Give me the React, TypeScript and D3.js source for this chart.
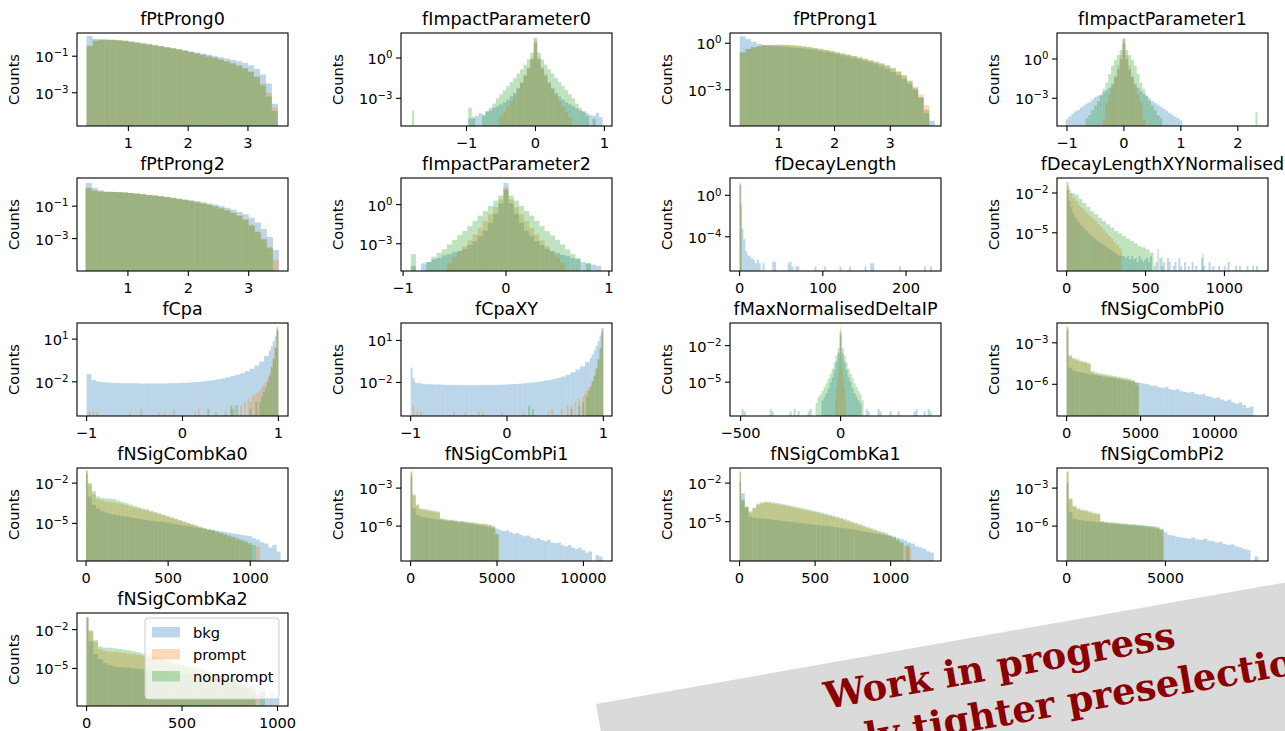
import React from 'react';
import * as d3 from 'd3';

type Seg = { x0: number; dx: number; v: (number | null)[] };
const _ = null;
const seg = (x0: number, dx: number, v: (number | null)[]): Seg => ({ x0, dx, v });
const pts = (dx: number, list: [number, number][]): Seg[] => list.map(([x, v]) => ({ x0: x, dx, v: [v] }));

const SERIES_NAMES = ['bkg', 'prompt', 'nonprompt'];
const SERIES_COLORS = ['#1f77b4', '#ff7f0e', '#2ca02c'];

// All bar heights are log10(counts)
const PT0_BKG = [seg(0.3, 0.1, [0.1,-0.05,-0.08,-0.1,-0.12,-0.15,-0.18,-0.22,-0.27,-0.32,-0.37,-0.42,-0.47,-0.52,-0.57,-0.62,-0.68,-0.74,-0.8,-0.86,-0.92,-0.98,-1.05,-1.12,-1.2,-1.28,-1.37,-1.5,-1.7,-2.0,-2.5,-3.6])];
const PT0_PROMPT = [seg(0.3, 0.1, [-0.45,-0.15,-0.1,-0.1,-0.1,-0.12,-0.15,-0.2,-0.25,-0.3,-0.35,-0.4,-0.45,-0.5,-0.57,-0.63,-0.7,-0.78,-0.85,-0.92,-1.0,-1.08,-1.17,-1.27,-1.38,-1.5,-1.65,-1.83,-2.1,-2.5,-3.0,-3.8])];
const PT0_NONPROMPT = [seg(0.3, 0.1, [-0.42,-0.14,-0.09,-0.09,-0.1,-0.12,-0.15,-0.19,-0.24,-0.29,-0.34,-0.39,-0.45,-0.51,-0.57,-0.64,-0.71,-0.78,-0.86,-0.94,-1.02,-1.1,-1.19,-1.29,-1.4,-1.52,-1.67,-1.86,-2.15,-2.6,-3.2,-4.0])];

const IP0_BKG = [seg(-1.025, 0.05, [_,-4.5,-4.4,-4.3,-4.1,-4.2,-3.95,-3.9,-3.7,-3.6,-3.45,-3.3,-3.1,-2.85,-2.6,-2.25,-1.85,-1.35,-0.8,-0.1,1.5,-0.1,-0.8,-1.35,-1.85,-2.25,-2.6,-2.85,-3.1,-3.3,-3.45,-3.6,-3.75,-3.9,-3.95,-4.1,-4.25,-4.3,-4.1,-4.4,_])];
const IP0_PROMPT = [seg(-0.525, 0.05, [-4.3,-4.0,-3.6,-3.2,-2.8,-2.3,-1.8,-1.25,-0.7,0.0,1.3,0.05,-0.65,-1.2,-1.8,-2.3,-2.75,-3.2,-3.6,-4.0,-4.4])];
const IP0_NONPROMPT = [seg(-0.975, 0.05, [-3.7,-4.5,_,_,-4.3,-4.0,-3.7,-3.4,-3.0,-2.7,-2.4,-2.1,-1.8,-1.5,-1.15,-0.85,-0.5,-0.1,0.4,1.1,0.4,-0.1,-0.5,-0.85,-1.15,-1.5,-1.8,-2.1,-2.4,-2.7,-3.0,-3.4,-3.7,-4.0,-4.3,_,-4.5]), seg(-1.79, 0.03, [-3.9])];

const PT1_BKG = [seg(0.3, 0.1, [0.44,0.27,0.1,-0.05,-0.12,-0.16,-0.19,-0.22,-0.25,-0.28,-0.31,-0.34,-0.38,-0.43,-0.49,-0.56,-0.63,-0.7,-0.78,-0.86,-0.95,-1.04,-1.13,-1.23,-1.35,-1.5,-1.67,-1.85,-2.05,-2.3,-2.6,-3.0,-3.5,-4.3,-5.0])];
const PT1_PROMPT = [seg(0.3, 0.1, [-0.6,-0.38,-0.27,-0.19,-0.13,-0.11,-0.11,-0.11,-0.12,-0.14,-0.17,-0.21,-0.26,-0.31,-0.37,-0.44,-0.51,-0.59,-0.67,-0.75,-0.83,-0.92,-1.01,-1.1,-1.2,-1.31,-1.43,-1.6,-1.8,-2.05,-2.4,-2.8,-3.3,-4.0])];
const PT1_NONPROMPT = [seg(0.3, 0.1, [-0.58,-0.37,-0.26,-0.19,-0.13,-0.11,-0.1,-0.1,-0.11,-0.13,-0.16,-0.2,-0.25,-0.3,-0.36,-0.43,-0.5,-0.58,-0.66,-0.74,-0.82,-0.91,-1.0,-1.1,-1.2,-1.31,-1.44,-1.62,-1.85,-2.1,-2.45,-2.9,-3.5,-4.5])];

const IP1_BKG = [seg(-1.025, 0.05, [-4.6,-4.4,-4.2,-4.0,-3.9,-3.7,-3.55,-3.4,-3.3,-3.1,-2.9,-2.8,-2.7,-2.55,-2.4,-2.2,-1.9,-1.4,-0.8,0.0,1.6,0.0,-0.8,-1.4,-1.9,-2.2,-2.45,-2.65,-2.8,-3.0,-3.2,-3.35,-3.5,-3.65,-3.8,-3.95,-4.1,-4.25,-4.4,-4.5,-4.7])];
const IP1_PROMPT = [seg(-0.375, 0.05, [-4.6,-3.3,-2.7,-2.05,-1.3,-0.5,0.3,1.5,0.3,-0.5,-1.3,-2.05,-2.7,-3.3,-4.6])];
const IP1_NONPROMPT = [seg(-0.675, 0.05, [-4.5,-4.3,-3.9,-3.56,-3.2,-2.8,-2.3,-1.8,-1.15,-0.5,-0.05,0.3,0.7,1.2,0.7,0.3,-0.05,-0.5,-1.15,-1.8,-2.3,-2.8,-3.2,-3.56,-3.9,-4.3,-4.5]), seg(2.31, 0.035, [-4.06])];

const PT2_BKG = [seg(0.3, 0.1, [0.43,0.13,-0.02,-0.1,-0.12,-0.14,-0.16,-0.19,-0.23,-0.27,-0.31,-0.35,-0.39,-0.43,-0.48,-0.53,-0.58,-0.63,-0.69,-0.76,-0.83,-0.9,-1.0,-1.1,-1.21,-1.35,-1.5,-1.71,-2.0,-2.4,-2.9,-3.7])];
const PT2_PROMPT = [seg(0.3, 0.1, [0.13,-0.02,-0.1,-0.12,-0.12,-0.13,-0.15,-0.18,-0.22,-0.26,-0.3,-0.34,-0.39,-0.44,-0.49,-0.55,-0.61,-0.68,-0.75,-0.83,-0.91,-1.0,-1.12,-1.25,-1.4,-1.57,-1.8,-2.15,-2.55,-3.0,-3.5,-4.3])];
const PT2_NONPROMPT = [seg(0.3, 0.1, [0.12,-0.03,-0.1,-0.12,-0.12,-0.13,-0.15,-0.18,-0.22,-0.26,-0.3,-0.34,-0.39,-0.44,-0.5,-0.56,-0.62,-0.69,-0.76,-0.84,-0.92,-1.02,-1.14,-1.27,-1.42,-1.6,-1.85,-2.2,-2.6,-3.05,-3.6])];

const IP2_BKG = [seg(-0.925, 0.05, [-4.7,_,-4.5,-4.4,-4.2,-4.1,-3.9,-3.8,-3.65,-3.55,-3.4,-3.1,-2.8,-2.4,-2.0,-1.4,-0.7,0.1,1.66,0.1,-0.7,-1.4,-2.0,-2.4,-2.8,-3.1,-3.4,-3.55,-3.7,-3.85,-3.95,-4.1,-4.2,-4.4,-4.5,-4.6,-4.7])];
const IP2_PROMPT = [seg(-0.575, 0.05, [-4.5,-4.0,-3.6,-3.2,-2.75,-2.3,-1.8,-1.27,-0.75,-0.2,0.4,1.3,0.4,-0.2,-0.75,-1.27,-1.8,-2.3,-2.75,-3.2,-3.6,-4.0,-4.5])];
const IP2_NONPROMPT = [seg(-0.925, 0.05, [-3.8,_,_,-4.4,-4.0,-3.7,-3.43,-3.05,-2.7,-2.35,-2.03,-1.65,-1.25,-0.85,-0.5,-0.1,0.3,0.7,1.15,0.7,0.3,-0.1,-0.5,-0.85,-1.25,-1.65,-2.03,-2.35,-2.7,-3.05,-3.43,-3.8,-4.1,_,-4.5])];

const DL_BKG = pts(2.31, [[0,1.0],[2.31,-3.2],[4.62,-4.2],[6.93,-5.4],[9.24,-5.8],[11.55,-5.9],[13.86,-6.1],[16.17,-6.2],[18.48,-6.55],[20.79,-6.2],[23.1,-6.55],[27.72,-6.55],[39.27,-6.4],[41.58,-6.4],[57.75,-6.55],[60.06,-6.4],[62.37,-6.85],[66.99,-6.85],[69.3,-6.85],[90.09,-6.85],[101.64,-6.85],[120.12,-6.85],[131.67,-6.85],[150.15,-6.85],[157.08,-6.55],[159.39,-6.55],[191.73,-6.85],[221.76,-6.85],[228.69,-6.85]]);
const DL_PROMPT = pts(1.2, [[0,1.19],[1.2,-1.0]]);
const DL_NONPROMPT = pts(1.2, [[0,1.1],[1.2,-0.8]]);

const DLXY_BKG = [seg(0, 12, [-1.17,-2.6,-3.1,-3.5,-3.8,-4.0,-4.2,-4.4,-4.55,-4.7,-4.85,-5.0,-5.1,-5.25,-5.35,-5.5,-5.6,-5.7,-5.8,-5.9,-6.0,-6.1,-6.2,-6.3,-6.4,-6.5,-6.6,-6.7,-6.75,-6.75]),
  ...pts(12, [[360,-6.75],[372,-6.9],[384,-6.75],[396,-7.0],[408,-6.75],[420,-7.0],[432,-6.9],[444,-7.2],[456,-6.75],[468,-7.0],[480,-7.2],[492,-7.0],[504,-6.9],[516,-7.2],[528,-6.75],[552,-7.5],[564,-7.2],[588,-6.9],[600,-7.5],[612,-7.2],[636,-6.9],[648,-7.2],[672,-7.5],[684,-7.2],[708,-6.9],[720,-7.5],[744,-7.2],[768,-7.5],[792,-7.2],[816,-7.5],[852,-6.9],[864,-7.5],[900,-7.2],[924,-7.5],[960,-7.5],[996,-7.5],[1020,-7.2],[1068,-7.5],[1092,-7.5],[1140,-7.5],[1176,-7.5],[1200,-7.5]])];
const DLXY_PROMPT = [seg(0, 17.5, [-1.4,-2.0,-2.35,-2.6,-2.9,-3.1,-3.3,-3.5,-3.7,-3.9,-4.1,-4.35,-4.55,-4.8,-5.0,-5.25,-5.45,-5.7,-5.9,-6.2])];
const DLXY_NONPROMPT = [seg(0, 25, [-1.75,-2.0,-2.12,-2.45,-2.75,-3.05,-3.37,-3.6,-3.87,-4.1,-4.37,-4.6,-4.87,-5.05,-5.25,-5.45,-5.62,-5.8,-6.0,-6.1,-6.25,-6.5]),
  ...pts(8.7, [[575,-6.25],[600,-6.8],[860,-6.6]])];

const CPA_BKG = [seg(-1, 0.05, [-1.45,-1.88,-1.98,-2.02,-2.05,-2.07,-2.08,-2.1,-2.1,-2.1,-2.1,-2.12,-2.12,-2.12,-2.12,-2.12,-2.12,-2.1,-2.1,-2.08,-2.07,-2.05,-2.03,-2.0,-1.97,-1.93,-1.88,-1.82,-1.76,-1.68,-1.6,-1.5,-1.4,-1.25,-1.08,-0.85,-0.58,-0.2]), seg(0.9, 0.02, [0.2,0.5,0.85,1.2,1.75])];
const CPA_PROMPT = pts(0.02, [[-0.98,-4.1],[-0.94,-4.1],[-0.9,-4.1],[-0.56,-4.1],[-0.44,-3.9],[-0.26,-4.1],[-0.2,-4.1],[-0.1,-3.9],[0.12,-4.1],[0.16,-3.9],[0.34,-4.1],[0.44,-4.1],[0.5,-3.9],[0.54,-3.65],[0.6,-3.65],[0.64,-3.4],[0.68,-3.2],[0.7,-3.4],[0.72,-3.0],[0.74,-2.9],[0.76,-2.8],[0.78,-2.7],[0.8,-2.6],[0.82,-2.4],[0.84,-2.2],[0.86,-2.0],[0.88,-1.7],[0.9,-1.4],[0.92,-0.9],[0.94,-0.3],[0.96,0.4],[0.98,1.9]]);
const CPA_NONPROMPT = pts(0.02, [[0.26,-3.9],[0.5,-3.65],[0.52,-3.9],[0.56,-3.65],[0.7,-3.9],[0.76,-3.4],[0.8,-3.4],[0.82,-3.0],[0.84,-2.7],[0.86,-2.4],[0.88,-2.0],[0.9,-1.6],[0.92,-1.0],[0.94,-0.4],[0.96,0.4],[0.98,1.55]]);

const CPAXY_BKG = [seg(-1.0, 0.02, [-0.94,-1.7,-1.99]), seg(-0.94, 0.05, [-2.05,-2.1,-2.12,-2.14,-2.15,-2.16,-2.17,-2.18,-2.18,-2.19,-2.19,-2.19,-2.19,-2.19,-2.18,-2.18,-2.17,-2.16,-2.15,-2.13,-2.11,-2.09,-2.06,-2.03,-1.99,-1.95,-1.9,-1.84,-1.77,-1.68,-1.58,-1.45,-1.28,-1.08,-0.85,-0.55]), seg(0.86, 0.02, [-0.25,0.0,0.3,0.6,0.95,1.35,1.85])];
const CPAXY_PROMPT = pts(0.02, [[-0.98,-3.65],[-0.94,-4.1],[-0.9,-4.1],[-0.56,-4.1],[-0.44,-4.1],[-0.3,-4.1],[-0.26,-4.1],[-0.06,-4.1],[0.16,-4.1],[0.42,-4.1],[0.46,-3.9],[0.56,-3.9],[0.62,-3.65],[0.66,-3.65],[0.7,-3.4],[0.74,-3.2],[0.78,-3.0],[0.8,-2.8],[0.82,-2.6],[0.84,-2.4],[0.86,-2.2],[0.88,-1.9],[0.9,-1.5],[0.92,-1.0],[0.94,-0.4],[0.96,0.4],[0.98,1.9]]);
const CPAXY_NONPROMPT = pts(0.02, [[0.22,-3.65],[0.26,-3.9],[0.66,-3.9],[0.74,-3.65],[0.78,-3.4],[0.82,-3.0],[0.84,-2.6],[0.86,-2.3],[0.88,-1.9],[0.9,-1.5],[0.92,-1.0],[0.94,-0.3],[0.96,0.5],[0.98,1.6]]);

const MND_BKG = [seg(-95, 10, [-6.5,-6.2,-5.9,-5.5,-5.0,-4.6,-4.0,-3.3,-2.6,-1.1,-2.6,-3.3,-4.0,-4.6,-5.0,-5.5,-5.9,-6.2,-6.5,-6.8]),
  ...pts(10, [[-495,-7.2],[-485,-7.4],[-355,-7.2],[-345,-7.4],[-255,-7.4],[-235,-7.2],[-215,-7.4],[-165,-7.4],[-155,-7.2],[125,-7.2],[135,-7.4],[185,-7.2],[195,-7.4],[245,-7.4],[285,-7.4],[365,-7.4],[375,-7.2],[415,-7.4],[435,-7.2],[445,-7.4]])];
const MND_PROMPT = [seg(-27.5, 5, [-6.4,-5.5,-4.8,-4.2,-3.0,-0.47,-3.0,-4.2,-4.8,-5.5,-6.4])];
const MND_NONPROMPT = [seg(-125, 10, [-6.7,-6.2,-6.0,-5.7,-5.4,-5.1,-4.7,-4.3,-3.9,-3.4,-2.8,-2.2,-0.83,-2.2,-2.8,-3.4,-3.9,-4.3,-4.7,-5.1,-5.4,-5.7,-6.0,-6.5])];

const PI0_BKG = [seg(0, 125, [-2.1]), seg(125, 250, [-4.8,-5.0,-5.1,-5.15,-5.2,-5.25,-5.3,-5.35,-5.4,-5.45,-5.5,-5.5,-5.55,-5.6,-5.65,-5.7,-5.75,-5.8,-5.85,-5.9,-5.95,-6.0,-6.1,-6.1,-6.2,-6.25,-6.2,-6.35,-6.4,-6.35,-6.5,-6.55,-6.6,-6.55,-6.7,-6.75,-6.7,-6.85,-6.9,-7.0,-6.95,-7.1,-7.2,-7.1,-7.3,-7.4,-7.3,-7.5,-7.7,-7.6])];
const PI0_PROMPT = [seg(0, 125, [-1.9]), seg(125, 250, [-4.0,-4.2,-4.3,-4.4,-4.45,-4.55,-5.15,-5.25,-5.3,-5.35,-5.4,-5.45,-5.5,-5.55,-5.6,-5.65,-5.7,-5.8,-6.1])];
const PI0_NONPROMPT = [seg(0, 125, [-1.85]), seg(125, 250, [-3.9,-4.1,-4.2,-4.3,-4.35,-4.45,-5.05,-5.15,-5.2,-5.25,-5.3,-5.35,-5.4,-5.45,-5.5,-5.55,-5.6,-5.7,-5.9])];

const KA0_BKG = [seg(0, 10, [-1.3]), seg(10, 25, [-3.0,-3.6,-3.9,-4.1,-4.2,-4.3,-4.35,-4.4,-4.45,-4.5,-4.55,-4.6,-4.65,-4.7,-4.75,-4.8,-4.85,-4.88,-4.9,-4.95,-5.0,-5.05,-5.1,-5.15,-5.2,-5.25,-5.3,-5.35,-5.4,-5.45,-5.5,-5.55,-5.6,-5.65,-5.7,-5.75,-5.8,-5.85,-5.9,-5.95,-6.1,-6.2,-6.4,-6.5,-6.8,-6.6,-7.1])];
const KA0_PROMPT = [seg(0, 10, [-1.05]), seg(10, 25, [-2.1,-2.8,-3.2,-3.3,-3.35,-3.4,-3.45,-3.5,-3.55,-3.65,-3.75,-3.85,-3.9,-4.0,-4.05,-4.15,-4.25,-4.3,-4.4,-4.5,-4.6,-4.7,-4.8,-4.9,-5.0,-5.1,-5.2,-5.3,-5.4,-5.5,-5.55,-5.65,-5.75,-5.85,-5.95,-6.05,-6.2,-6.3,-6.45,-6.6,_,-6.75])];
const KA0_NONPROMPT = [seg(0, 10, [-1.1]), seg(10, 25, [-2.0,-2.6,-3.0,-3.1,-3.15,-3.15,-3.2,-3.3,-3.4,-3.5,-3.6,-3.7,-3.8,-3.9,-3.95,-4.05,-4.15,-4.25,-4.35,-4.45,-4.55,-4.65,-4.75,-4.85,-4.95,-5.05,-5.15,-5.25,-5.35,-5.45,-5.5,-5.6,-5.7,-5.8,-5.9,-6.0,-6.1,-6.2,-6.3,-6.45,-6.6])];

const PI1_BKG = [seg(0, 100, [-2.07]), seg(100, 200, [-4.6,-5.1,-5.25,-5.3,-5.35,-5.4,-5.45,-5.5,-5.5,-5.55,-5.6,-5.6,-5.65,-5.7,-5.7,-5.75,-5.8,-5.85,-5.9,-5.95,-6.0,-6.05,-6.1,-6.15,-6.2,-6.3,-6.4,-6.35,-6.5,-6.6,-6.55,-6.7,-6.8,-6.75,-6.9,-7.0,-6.95,-7.1,-7.2,-7.1,-7.3,-7.35,-7.3,-7.5,-7.6,-7.5,-7.7,-7.8,-7.7,-7.9,-8.1,-8.0,_,-8.3,-8.4])];
const PI1_PROMPT = [seg(0, 100, [-1.8]), seg(100, 200, [-3.6,-4.4,-4.7,-4.75,-4.8,-4.85,-4.9,-4.95,-5.45,-5.5,-5.55,-5.55,-5.6,-5.65,-5.65,-5.7,-5.75,-5.75,-5.8,-5.85,-5.85,-5.9,-5.95,-6.05,-6.7])];
const PI1_NONPROMPT = [seg(0, 100, [-1.67]), seg(100, 200, [-3.5,-4.3,-4.6,-4.65,-4.7,-4.75,-4.8,-4.85,-5.4,-5.45,-5.5,-5.5,-5.55,-5.6,-5.6,-5.65,-5.7,-5.7,-5.75,-5.8,-5.8,-5.85,-5.9,-6.0,-6.6])];

const KA1_BKG = [seg(0, 10, [-1.9]), seg(10, 25, [-2.8,-3.9,-4.6,-4.7,-4.75,-4.75,-4.78,-4.8,-4.85,-4.88,-4.92,-4.96,-5.0,-5.03,-5.06,-5.1,-5.13,-5.16,-5.2,-5.23,-5.27,-5.3,-5.33,-5.36,-5.4,-5.43,-5.46,-5.5,-5.55,-5.6,-5.65,-5.7,-5.75,-5.8,-5.85,-5.9,-5.95,-6.0,-6.05,-6.1,-6.15,-6.25,-6.35,-6.45,-6.6,-6.7,-6.9,-7.0,-7.1,-7.3,-7.4])];
const KA1_PROMPT = [seg(0, 10, [-1.2]), seg(10, 25, [-3.4,-3.9,-4.3,-4.0,-3.7,-3.6,-3.55,-3.55,-3.6,-3.65,-3.7,-3.75,-3.8,-3.87,-3.93,-4.0,-4.07,-4.14,-4.2,-4.27,-4.34,-4.41,-4.48,-4.56,-4.64,-4.72,-4.8,-4.9,-5.0,-5.1,-5.2,-5.3,-5.4,-5.5,-5.6,-5.7,-5.8,-5.9,-6.0,-6.15,-6.3,-6.5,-6.7,-6.9,-6.97])];
const KA1_NONPROMPT = [seg(0, 10, [-1.09]), seg(10, 25, [-3.3,-3.8,-4.2,-3.9,-3.6,-3.5,-3.44,-3.44,-3.5,-3.55,-3.6,-3.66,-3.72,-3.78,-3.85,-3.9,-3.97,-4.04,-4.1,-4.17,-4.23,-4.3,-4.38,-4.46,-4.54,-4.62,-4.7,-4.8,-4.9,-5.0,-5.1,-5.2,-5.3,-5.4,-5.5,-5.6,-5.7,-5.8,-5.9,-6.05,-6.2,-6.4,-6.6]), ...pts(25, [[1100,-6.8]])];

const PI2_BKG = [seg(0, 100, [-2.6]), seg(100, 200, [-4.9,-5.4,-5.5,-5.55,-5.6,-5.62,-5.65,-5.68,-5.7,-5.75,-5.78,-5.8,-5.82,-5.85,-5.88,-5.9,-5.93,-5.95,-5.98,-6.0,-6.05,-6.1,-6.2,-6.3,-6.5,-6.7,-6.75,-6.85,-6.9,-6.95,-7.0,-6.9,-7.05,-7.1,-7.0,-7.15,-7.2,-7.3,-7.25,-7.4,-7.5,-7.45,-7.6,-7.7,-7.8,-7.9,_,-8.4])];
const PI2_PROMPT = [seg(0, 100, [-1.75]), seg(100, 200, [-3.9,-4.5,-4.7,-4.8,-4.85,-4.95,-5.05,-5.1,-5.7,-5.75,-5.8,-5.8,-5.85,-5.9,-5.9,-5.95,-5.95,-6.0,-6.0,-6.05,-6.1,-6.1,-6.15,-6.3])];
const PI2_NONPROMPT = [seg(0, 100, [-1.67]), seg(100, 200, [-3.8,-4.4,-4.6,-4.7,-4.75,-4.85,-4.95,-5.0,-5.6,-5.65,-5.7,-5.7,-5.75,-5.8,-5.8,-5.85,-5.85,-5.9,-5.9,-5.95,-6.0,-6.0,-6.05,-6.2])];

const KA2_BKG = [seg(0, 10, [-1.1]), seg(10, 25, [-2.9,-3.9,-4.3,-4.6,-4.75,-4.85,-4.9,-4.92,-4.95,-5.0,-5.03,-5.06,-5.1,-5.13,-5.16,-5.2,-5.25,-5.3,-5.35,-5.4,-5.45,-5.5,-5.55,-5.6,-5.65,-5.7,-5.75,-5.85,-5.95,-6.05,-6.15,-6.3,-6.5,-6.6,-6.9,-7.0,-6.8,-7.2,-6.9,-7.3])];
const KA2_PROMPT = [seg(0, 10, [-1.0]), seg(10, 25, [-2.15,-2.95,-3.5,-3.65,-3.7,-3.72,-3.75,-3.8,-3.85,-3.9,-3.97,-4.05,-4.12,-4.2,-4.3,-4.4,-4.5,-4.6,-4.7,-4.8,-4.9,-5.0,-5.1,-5.2,-5.3,-5.4,-5.52,-5.65,-5.78,-5.9,-6.02,-6.15,-6.3,-6.45,-6.55,-6.6])];
const KA2_NONPROMPT = [seg(0, 10, [-1.02]), seg(10, 25, [-2.05,-2.8,-3.3,-3.4,-3.4,-3.45,-3.5,-3.55,-3.6,-3.68,-3.76,-3.85,-3.95,-4.05,-4.15,-4.25,-4.35,-4.45,-4.55,-4.65,-4.75,-4.85,-4.95,-5.05,-5.15,-5.25,-5.37,-5.5,-5.62,-5.75,-5.88,-6.0,-6.12,-6.3,-6.45]), ...pts(25, [[910,-6.5]])];

type Panel = { title: string; row: number; col: number; xDom: [number, number]; yDom: [number, number]; xTicks: number[]; yTicks: number[]; series: Seg[][]; legend?: boolean };

const PANELS: Panel[] = [
  { title: 'fPtProng0', row: 0, col: 0, xDom: [0.14, 3.67], yDom: [-4.82, 0.27], xTicks: [1, 2, 3], yTicks: [-1, -3], series: [PT0_BKG, PT0_PROMPT, PT0_NONPROMPT] },
  { title: 'fImpactParameter0', row: 0, col: 1, xDom: [-1.95, 1.11], yDom: [-5.06, 1.86], xTicks: [-1, 0, 1], yTicks: [0, -3], series: [IP0_BKG, IP0_PROMPT, IP0_NONPROMPT] },
  { title: 'fPtProng1', row: 0, col: 2, xDom: [0.125, 3.91], yDom: [-5.34, 0.66], xTicks: [1, 2, 3], yTicks: [0, -3], series: [PT1_BKG, PT1_PROMPT, PT1_NONPROMPT] },
  { title: 'fImpactParameter1', row: 0, col: 3, xDom: [-1.175, 2.53], yDom: [-5.12, 1.99], xTicks: [-1, 0, 1, 2], yTicks: [0, -3], series: [IP1_BKG, IP1_PROMPT, IP1_NONPROMPT] },
  { title: 'fPtProng2', row: 1, col: 0, xDom: [0.157, 3.65], yDom: [-5.0, 0.74], xTicks: [1, 2, 3], yTicks: [-1, -3], series: [PT2_BKG, PT2_PROMPT, PT2_NONPROMPT] },
  { title: 'fImpactParameter2', row: 1, col: 1, xDom: [-1.02, 1.03], yDom: [-5.09, 2.04], xTicks: [-1, 0, 1], yTicks: [0, -3], series: [IP2_BKG, IP2_PROMPT, IP2_NONPROMPT] },
  { title: 'fDecayLength', row: 1, col: 2, xDom: [-11.5, 242], yDom: [-7.3, 1.67], xTicks: [0, 100, 200], yTicks: [0, -4], series: [DL_BKG, DL_PROMPT, DL_NONPROMPT] },
  { title: 'fDecayLengthXYNormalised', row: 1, col: 3, xDom: [-61, 1276], yDom: [-7.88, -0.87], xTicks: [0, 500, 1000], yTicks: [-2, -5], series: [DLXY_BKG, DLXY_PROMPT, DLXY_NONPROMPT] },
  { title: 'fCpa', row: 2, col: 0, xDom: [-1.1, 1.1], yDom: [-4.4, 2.13], xTicks: [-1, 0, 1], yTicks: [1, -2], series: [CPA_BKG, CPA_PROMPT, CPA_NONPROMPT] },
  { title: 'fCpaXY', row: 2, col: 1, xDom: [-1.1, 1.09], yDom: [-4.4, 2.25], xTicks: [-1, 0, 1], yTicks: [1, -2], series: [CPAXY_BKG, CPAXY_PROMPT, CPAXY_NONPROMPT] },
  { title: 'fMaxNormalisedDeltaIP', row: 2, col: 2, xDom: [-553, 502], yDom: [-7.78, -0.145], xTicks: [-500, 0], yTicks: [-2, -5], series: [MND_BKG, MND_PROMPT, MND_NONPROMPT] },
  { title: 'fNSigCombPi0', row: 2, col: 3, xDom: [-648, 13609], yDom: [-8.29, -1.57], xTicks: [0, 5000, 10000], yTicks: [-3, -6], series: [PI0_BKG, PI0_PROMPT, PI0_NONPROMPT] },
  { title: 'fNSigCombKa0', row: 3, col: 0, xDom: [-55, 1230], yDom: [-7.8, -0.875], xTicks: [0, 500, 1000], yTicks: [-2, -5], series: [KA0_BKG, KA0_PROMPT, KA0_NONPROMPT] },
  { title: 'fNSigCombPi1', row: 3, col: 1, xDom: [-555, 11655], yDom: [-8.76, -1.41], xTicks: [0, 5000, 10000], yTicks: [-3, -6], series: [PI1_BKG, PI1_PROMPT, PI1_NONPROMPT] },
  { title: 'fNSigCombKa1', row: 3, col: 2, xDom: [-63, 1333], yDom: [-8.05, -0.83], xTicks: [0, 500, 1000], yTicks: [-2, -5], series: [KA1_BKG, KA1_PROMPT, KA1_NONPROMPT] },
  { title: 'fNSigCombPi2', row: 3, col: 3, xDom: [-485, 10185], yDom: [-8.76, -1.41], xTicks: [0, 5000], yTicks: [-3, -6], series: [PI2_BKG, PI2_PROMPT, PI2_NONPROMPT] },
  { title: 'fNSigCombKa2', row: 4, col: 0, xDom: [-50, 1055], yDom: [-7.9, -0.715], xTicks: [0, 500, 1000], yTicks: [-2, -5], series: [KA2_BKG, KA2_PROMPT, KA2_NONPROMPT], legend: true },
];

const BANNER_LINES = ['Work in progress', 'apply tighter preselection'];

const COL_LEFT = [77, 401, 730, 1057];
const ROW_TOP = [33, 178, 323, 468, 613];
const PW = 211;
const PH = 93;
const FONT = 'DejaVu Sans, Verdana, sans-serif';
const FS = 14.6;
const MINUS = '\u2212';

const fmt = (t: number) => (t < 0 ? MINUS : '') + Math.abs(t);

function PanelView({ p, idx }: { p: Panel; idx: number }) {
  const left = COL_LEFT[p.col];
  const top = ROW_TOP[p.row];
  const bottom = top + PH;
  const x = d3.scaleLinear().domain(p.xDom).range([left, left + PW]);
  const y = d3.scaleLog().domain([Math.pow(10, p.yDom[0]), Math.pow(10, p.yDom[1])]).range([bottom, top]);
  const clipId = `clip-${idx}`;
  return (
    <g>
      <clipPath id={clipId}>
        <rect x={left} y={top} width={PW} height={PH} />
      </clipPath>
      <g clipPath={`url(#${clipId})`}>
        {p.series.map((segs, si) =>
          segs.map((s, k) =>
            s.v.map((val, i) => {
              if (val === null || val === undefined) return null;
              const xa = x(s.x0 + i * s.dx);
              const xb = x(s.x0 + (i + 1) * s.dx);
              const yt = y(Math.pow(10, val));
              return (
                <rect key={`${si}-${k}-${i}`} x={xa} width={Math.max(0.8, xb - xa)} y={yt} height={Math.max(0, bottom - yt)}
                  fill={SERIES_COLORS[si]} fillOpacity={0.3} />
              );
            })
          )
        )}
      </g>
      <rect x={left} y={top} width={PW} height={PH} fill="none" stroke="#000" strokeWidth={1.1} />
      {p.xTicks.map((t) => (
        <g key={`xt${t}`}>
          <line x1={x(t)} x2={x(t)} y1={bottom} y2={bottom + 5} stroke="#000" strokeWidth={1.1} />
          <text x={x(t)} y={bottom + 22} textAnchor="middle" fontSize={FS} fontFamily={FONT} fill="#000">{fmt(t)}</text>
        </g>
      ))}
      {p.yTicks.map((e) => {
        const yy = y(Math.pow(10, e));
        return (
          <g key={`yt${e}`}>
            <line x1={left - 5} x2={left} y1={yy} y2={yy} stroke="#000" strokeWidth={1.1} />
            <text x={left - 8.5} y={yy + 6} textAnchor="end" fontSize={FS} fontFamily={FONT} fill="#000">
              <tspan>10</tspan>
              <tspan fontSize={10.2} dy={-5.8}>{fmt(e)}</tspan>
            </text>
          </g>
        );
      })}
      <text transform={`translate(${left - 58},${top + PH / 2}) rotate(-90)`} textAnchor="middle" fontSize={FS} fontFamily={FONT} fill="#000">Counts</text>
      <text x={left + PW / 2} y={top - 8.5} textAnchor="middle" fontSize={17.5} fontFamily={FONT} fill="#000">{p.title}</text>
      {p.legend && (
        <g>
          <rect x={145} y={618} width={134} height={81} rx={3} fill="#fff" fillOpacity={0.8} stroke="#cccccc" strokeWidth={1} />
          {SERIES_NAMES.map((n, i) => (
            <g key={n}>
              <rect x={152} y={627 + i * 22} width={28} height={10.5} fill={SERIES_COLORS[i]} fillOpacity={0.3} />
              <text x={193} y={637.5 + i * 22} fontSize={FS} fontFamily={FONT} fill="#000">{n}</text>
            </g>
          ))}
        </g>
      )}
    </g>
  );
}

export default function App() {
  return (
    <svg width={1285} height={731} style={{ position: 'absolute', left: 0, top: 0, background: '#fff', display: 'block' }}>
      <rect x={0} y={0} width={1285} height={731} fill="#fff" />
      {PANELS.map((p, i) => (
        <PanelView key={p.title} p={p} idx={i} />
      ))}
      <g transform="translate(596,704) rotate(-10)">
        <rect x={0} y={0} width={900} height={160} fill="#dadada" />
        <text x={404} y={45} textAnchor="middle" fontSize={37} fontWeight="bold" fontFamily="DejaVu Serif, serif" fill="#8b0000">{BANNER_LINES[0]}</text>
        <text x={452} y={92} textAnchor="middle" fontSize={37} fontWeight="bold" fontFamily="DejaVu Serif, serif" fill="#8b0000">{BANNER_LINES[1]}</text>
      </g>
    </svg>
  );
}
